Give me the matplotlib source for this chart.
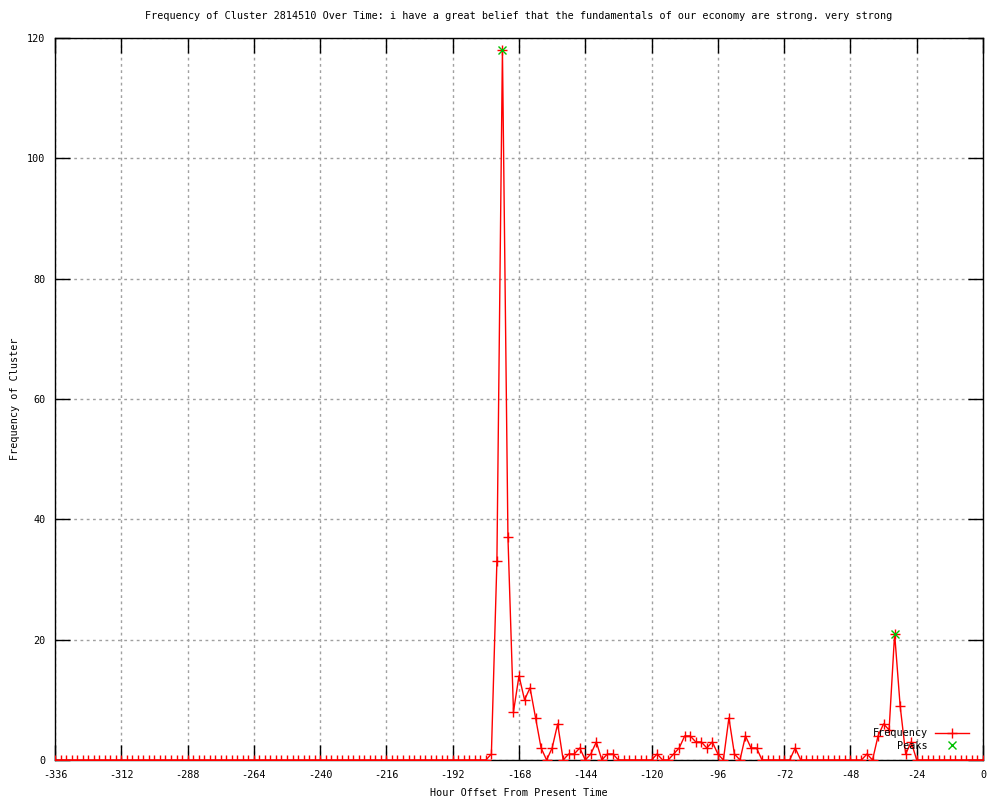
import matplotlib
matplotlib.use("Agg")
import matplotlib.pyplot as plt

# hours offset, sampled every 2 hours
hours = list(range(-336, 2, 2))

frequency = [
    0, 0, 0, 0, 0, 0, 0, 0, 0, 0, 0, 0,        # -336 .. -314
    0, 0, 0, 0, 0, 0, 0, 0, 0, 0, 0, 0,        # -312 .. -290
    0, 0, 0, 0, 0, 0, 0, 0, 0, 0, 0, 0,        # -288 .. -266
    0, 0, 0, 0, 0, 0, 0, 0, 0, 0, 0, 0,        # -264 .. -242
    0, 0, 0, 0, 0, 0, 0, 0, 0, 0, 0, 0,        # -240 .. -218
    0, 0, 0, 0, 0, 0, 0, 0, 0, 0, 0, 0,        # -216 .. -194
    0, 0, 0, 0, 0, 0, 0, 1, 33, 118, 37, 8,    # -192 .. -170
    14, 10, 12, 7, 2, 0, 2, 6, 0, 1, 1, 2,     # -168 .. -146
    0, 1, 3, 0, 1, 1, 0, 0, 0, 0, 0, 0,        # -144 .. -122
    0, 1, 0, 0, 1, 2, 4, 4, 3, 3, 2, 3,        # -120 .. -98
    1, 0, 7, 1, 0, 4, 2, 2, 0, 0, 0, 0,        # -96 .. -74
    0, 0, 2, 0, 0, 0, 0, 0, 0, 0, 0, 0,        # -72 .. -50
    0, 0, 0, 1, 0, 4, 6, 5, 21, 9, 1, 3,       # -48 .. -26
    0, 0, 0, 0, 0, 0, 0, 0, 0, 0, 0, 0,        # -24 .. -2
    0,                                         # 0
]

peak_hours = [-174, -32]
peak_values = [118, 21]

x_ticks = list(range(-336, 1, 24))
y_ticks = list(range(0, 121, 20))

title = ("Frequency of Cluster 2814510 Over Time: i have a great belief "
         "that the fundamentals of our economy are strong. very strong")

plt.rcParams['font.family'] = ['DejaVu Sans Mono']
plt.rcParams['font.size'] = 7.3
plt.rcParams['axes.unicode_minus'] = False

fig = plt.figure(figsize=(10, 8), dpi=100)
ax = fig.add_axes([0.055, 0.05, 0.928, 0.9025])

ax.plot(hours, frequency, color='red', linewidth=1, marker='+',
        markersize=7, markeredgewidth=1, label='Frequency', zorder=3)
ax.plot(peak_hours, peak_values, linestyle='none', color='#00c000', marker='x',
        markersize=6, markeredgewidth=1, label='Peaks', zorder=4)

ax.set_xlim(-336, 0)
ax.set_ylim(0, 120)
ax.set_xticks(x_ticks)
ax.set_yticks(y_ticks)
ax.grid(True, color='#a0a0a0', linestyle=(0, (2, 2.5)), linewidth=1)
ax.tick_params(direction='in', length=11, width=1, top=True, right=True,
               labeltop=False, labelright=False, pad=7)
for s in ax.spines.values():
    s.set_linewidth(1)

ax.set_title(title, fontsize=7.3, pad=14)
ax.set_xlabel("Hour Offset From Present Time", labelpad=6)
ax.set_ylabel("Frequency of Cluster", labelpad=5)

ax.legend(loc='lower right', bbox_to_anchor=(0.993, 0.003), frameon=False,
          markerfirst=False, handlelength=3.4, labelspacing=0.25,
          handletextpad=0.7, borderaxespad=0.3)

fig.savefig("out.png", dpi=100)
